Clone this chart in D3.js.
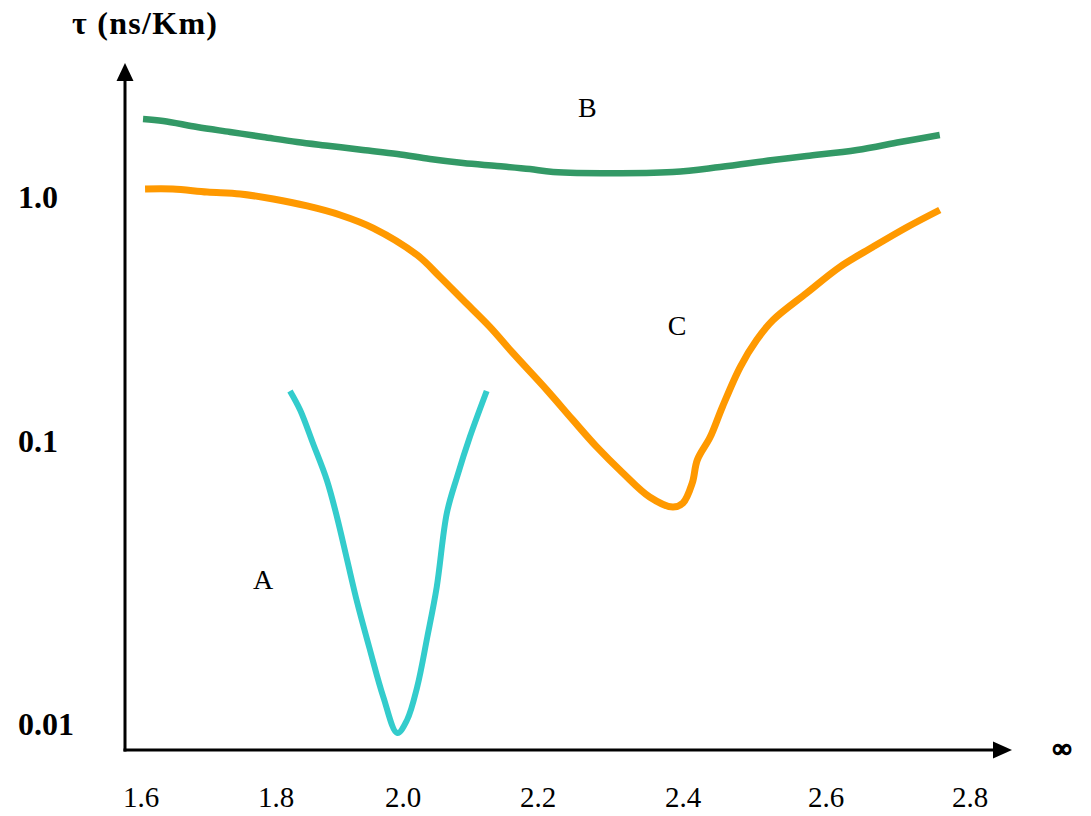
<!DOCTYPE html>
<html>
<head>
<meta charset="utf-8">
<script src="https://cdn.jsdelivr.net/npm/d3@7"></script>
<style>
  html, body { margin: 0; padding: 0; background: #fff; }
  svg { display: block; }
</style>
</head>
<body>
<script>
// ---- data ----
const xTicks = [1.6, 1.8, 2.0, 2.2, 2.4, 2.6, 2.8];
const xTickLabels = ["1.6", "1.8", "2.0", "2.2", "2.4", "2.6", "2.8"];
const yTicks = [1.0, 0.1, 0.01];
const yTickLabels = ["1.0", "0.1", "0.01"];

// Curve A (cyan)
const aX = [1.822, 1.838, 1.858, 1.880, 1.896, 1.912, 1.928, 1.948, 1.969, 1.991, 2.006, 2.021, 2.036, 2.050, 2.065, 2.080, 2.099, 2.124];
const aY = [0.1603, 0.1339, 0.0984, 0.0728, 0.0539, 0.0380, 0.0268, 0.01826, 0.01246, 0.00929, 0.01033, 0.01351, 0.0203, 0.0305, 0.0557, 0.0746, 0.1038, 0.1603];

// Curve B (green)
const bX = [1.603, 1.633, 1.683, 1.732, 1.781, 1.833, 1.885, 1.937, 1.991, 2.040, 2.089, 2.139, 2.188, 2.221, 2.386, 2.452, 2.526, 2.573, 2.643, 2.703, 2.758];
const bY = [2.088, 2.049, 1.936, 1.847, 1.762, 1.680, 1.618, 1.558, 1.501, 1.431, 1.378, 1.340, 1.302, 1.266, 1.266, 1.327, 1.418, 1.472, 1.558, 1.680, 1.795];

// Curve C (orange)
const cX = [1.606, 1.647, 1.698, 1.747, 1.796, 1.849, 1.901, 1.953, 2.021, 2.055, 2.089, 2.129, 2.163, 2.212, 2.248, 2.281, 2.317, 2.354, 2.386, 2.400, 2.413, 2.420, 2.438, 2.455, 2.480, 2.503, 2.526, 2.573, 2.619, 2.665, 2.713, 2.758];
const cY = [1.078, 1.078, 1.048, 1.029, 0.981, 0.919, 0.844, 0.746, 0.578, 0.470, 0.378, 0.293, 0.229, 0.162, 0.122, 0.0953, 0.0771, 0.0634, 0.0584, 0.0604, 0.0711, 0.0857, 0.1038, 0.1378, 0.2010, 0.2594, 0.3133, 0.4043, 0.5165, 0.6238, 0.7534, 0.8845];

const seriesNames = ["A", "B", "C"];
const seriesLabelX = [1.781, 2.268, 2.392];
const seriesLabelY = [0.0325, 2.338, 0.2988];
const yTitle = "τ (ns/Km)";
const xTitle = "∞";

// ---- layout ----
const W = 1091, H = 816;
const svg = d3.select("body").append("svg").attr("width", W).attr("height", H);

const x = d3.scaleLinear()
  .domain(xTicks)
  .range([141, 276, 403, 538, 683, 826, 970]);
const y = d3.scaleLog()
  .domain([0.01, 0.1, 1])
  .range([724, 441, 197]);

const axisX0 = 125, axisY0 = 750;
const serif = "'Liberation Serif', 'Times New Roman', serif";

// axes
svg.append("line").attr("x1", axisX0).attr("y1", axisY0 + 1.5).attr("x2", axisX0).attr("y2", 78)
  .attr("stroke", "#000").attr("stroke-width", 3);
svg.append("path").attr("d", `M${axisX0},63 L${axisX0 - 8.5},81 L${axisX0 + 8.5},81 Z`).attr("fill", "#000");
svg.append("line").attr("x1", axisX0 - 1.5).attr("y1", axisY0).attr("x2", 995).attr("y2", axisY0)
  .attr("stroke", "#000").attr("stroke-width", 3);
svg.append("path").attr("d", `M1012,${axisY0} L993,${axisY0 - 8.5} L993,${axisY0 + 8.5} Z`).attr("fill", "#000");

// tick labels
svg.append("g").selectAll("text").data(xTicks).join("text")
  .attr("x", d => x(d)).attr("y", 807)
  .attr("text-anchor", "middle")
  .attr("font-family", serif).attr("font-size", 29)
  .text((d, i) => xTickLabels[i]);

svg.append("g").selectAll("text").data(yTicks).join("text")
  .attr("x", 18).attr("y", d => y(d) + 10.5)
  .attr("font-family", serif).attr("font-size", 32).attr("font-weight", "bold")
  .text((d, i) => yTickLabels[i]);

// titles
svg.append("text").attr("x", 72).attr("y", 34)
  .attr("font-family", serif).attr("font-size", 32).attr("font-weight", "bold")
  .attr("textLength", 145).attr("lengthAdjust", "spacing")
  .text(yTitle);
svg.append("text").attr("x", 1062).attr("y", 757).attr("text-anchor", "middle")
  .attr("font-family", serif).attr("font-size", 26).attr("font-weight", "bold")
  .attr("stroke", "#000").attr("stroke-width", 1.6)
  .text(xTitle);

// curves
const line = d3.line().x(d => x(d[0])).y(d => y(d[1])).curve(d3.curveCatmullRom.alpha(0.5));
const curves = [
  { xs: aX, ys: aY, color: "#33CCCC", w: 6 },
  { xs: bX, ys: bY, color: "#339966", w: 6.5 },
  { xs: cX, ys: cY, color: "#FF9900", w: 7 }
];
curves.forEach(c => {
  svg.append("path")
    .datum(c.xs.map((v, i) => [v, c.ys[i]]))
    .attr("d", line)
    .attr("fill", "none").attr("stroke", c.color).attr("stroke-width", c.w)
    .attr("stroke-linejoin", "round");
});

// series labels (positioned in data space)
svg.append("g").selectAll("text").data(seriesNames).join("text")
  .attr("x", (d, i) => x(seriesLabelX[i]))
  .attr("y", (d, i) => y(seriesLabelY[i]) + 10)
  .attr("text-anchor", "middle")
  .attr("font-family", serif).attr("font-size", 28)
  .text(d => d);
</script>
</body>
</html>
